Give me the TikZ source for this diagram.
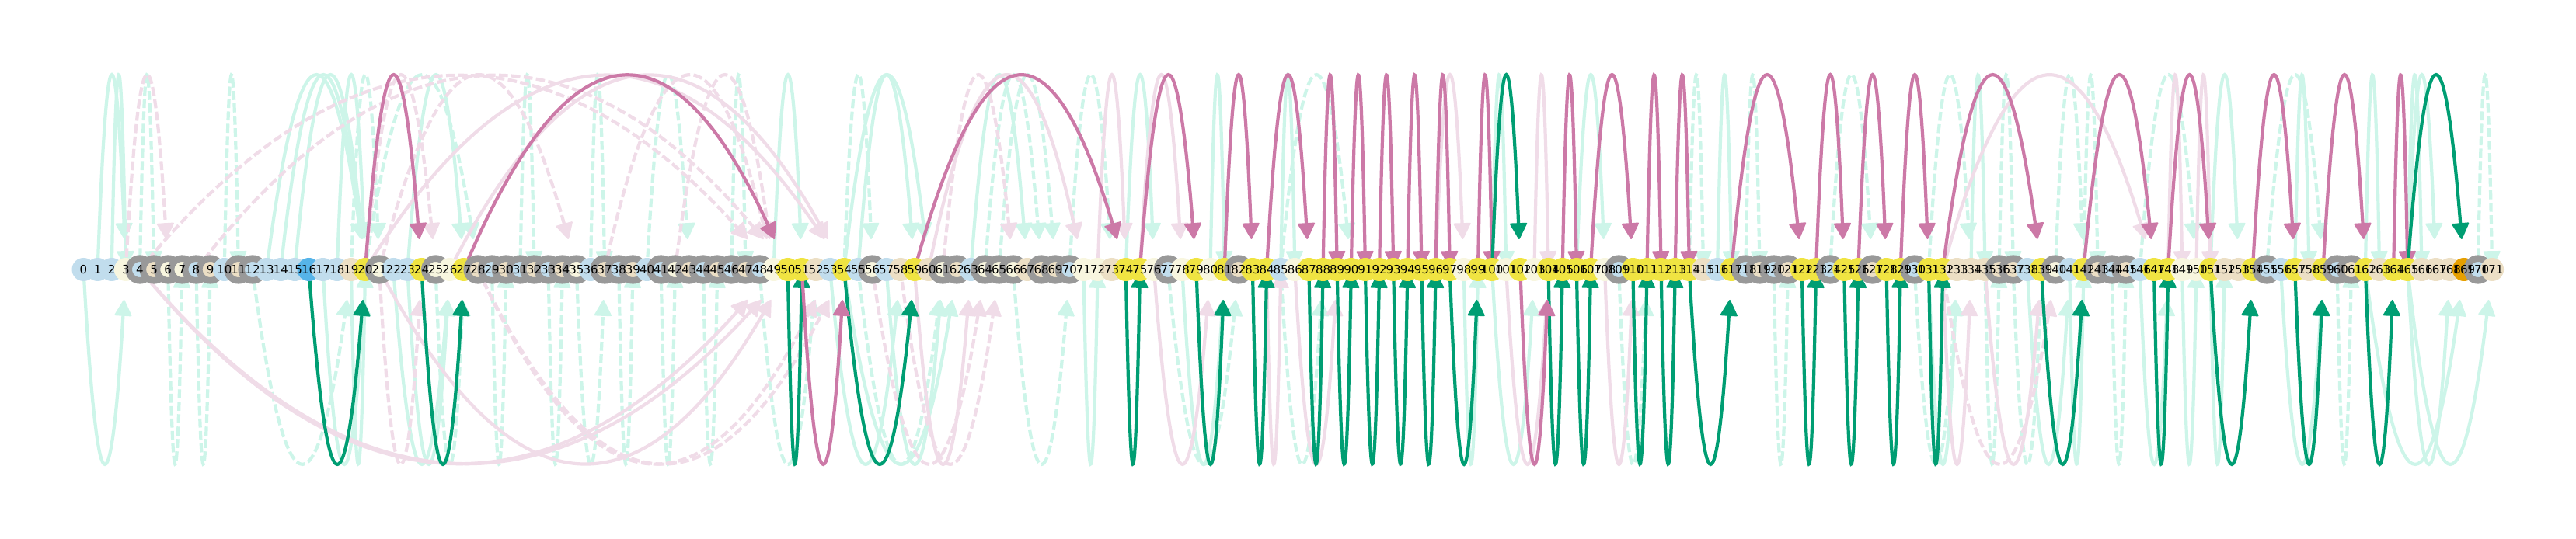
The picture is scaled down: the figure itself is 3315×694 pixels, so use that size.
\documentclass[tikz,border=0pt]{standalone}
\usepackage{fontspec}
\setmainfont{DejaVu Sans}
\usetikzlibrary{arrows.meta,calc}
\definecolor{cB}{HTML}{C1DDED}
\definecolor{cC}{HTML}{F8F6DF}
\definecolor{cT}{HTML}{ECDFC5}
\definecolor{cY}{HTML}{F0E442}
\definecolor{cS}{HTML}{56B4E9}
\definecolor{cO}{HTML}{E69F00}
\definecolor{ring}{HTML}{999999}
\definecolor{lightgreen}{HTML}{CDF5E9}
\definecolor{lightpurple}{HTML}{F0DCE8}
\definecolor{darkgreen}{HTML}{009E73}
\definecolor{darkpurple}{HTML}{CC79A7}
\tikzset{
  arcbase/.style={line width=2.1pt,-{Triangle[length=11pt,width=11.5pt,line width=1pt,round]}},
  lgs/.style={arcbase,draw=lightgreen,color=lightgreen},
  lgd/.style={lgs,dash pattern=on 5.8pt off 2.2pt},
  lps/.style={arcbase,draw=lightpurple,color=lightpurple},
  lpd/.style={lps,dash pattern=on 5.8pt off 2.2pt},
  dg/.style={arcbase,draw=darkgreen,color=darkgreen},
  dp/.style={arcbase,draw=darkpurple,color=darkpurple},
  nd/.style={circle,inner sep=0pt,minimum size=15pt},
  ndB/.style={nd,fill=cB}, ndC/.style={nd,fill=cC}, ndT/.style={nd,fill=cT},
  ndY/.style={nd,fill=cY}, ndS/.style={nd,fill=cS}, ndO/.style={nd,fill=cO},
  ringed/.style={minimum size=14.3pt,draw=ring,line width=4.3pt},
  ndBR/.style={ndB,ringed}, ndCR/.style={ndC,ringed}, ndTR/.style={ndT,ringed},
  lab/.style={inner sep=0pt,font=\fontsize{7.5pt}{9pt}\selectfont,text=black}
}
\newcommand\arcedge[4]{%
  \pgfmathsetmacro\spn{(#2-#1)*18.126}%
  \pgfmathsetmacro\ofs{ifthenelse(#2-#1==1,3,39)}%
  \pgfmathsetmacro\eps{(1-sqrt(1-\ofs/248))/2}%
  \pgfmathsetmacro\tu{1-\eps}%
  \pgfmathsetmacro\ax{\tu*\spn/3}%
  \pgfmathsetmacro\ay{#3*4*248*\tu/3}%
  \pgfmathsetmacro\bx{2*\tu*\spn/3}%
  \pgfmathsetmacro\by{#3*(\ofs/3+4*248*\tu/3)}%
  \pgfmathsetmacro\ex{-\eps*\spn}%
  \pgfmathsetmacro\ey{#3*\ofs}%
  \draw[#4] (n#1) .. controls ($(n#1)+(\ax,\ay)$) and ($(n#1)+(\bx,\by)$) .. ($(n#2)+(\ex,\ey)$);%
}
\begin{document}
\begin{tikzpicture}[x=0.5pt,y=0.5pt]
\useasboundingbox (0,-347) rectangle (3315,347);
\foreach \i in {0,...,171} {\coordinate (n\i) at ({107.5+18.126*\i},0);}
% light arcs above
\foreach \a/\b/\s in {1/3/lgs,2/3/lgs,4/5/lgd,10/11/lgd,13/20/lgs,14/20/lgs,15/20/lgs,18/20/lgs,19/21/lgd,20/28/lgd,23/27/lgs,31/32/lgd,36/37/lgd,40/43/lgd,46/47/lgd,49/51/lgs,54/56/lgd,55/59/lgs,54/60/lgs,63/67/lgs,64/68/lgd,65/69/lgd,70/73/lgd,74/76/lgs,80/81/lgs,85/86/lgs,85/90/lgd,100/101/lgs,106/108/lgs,114/115/lgd,116/117/lgs,118/119/lgd,124/127/lgd,131/134/lgd,134/135/lgs,136/137/lgd,140/142/lgd,142/143/lgd,146/150/lgd,151/153/lgs,155/159/lgd,157/158/lgs,162/163/lgs,165/166/lgs,165/167/lgs,170/171/lgd,
3/6/lpd,4/49/lpd,8/50/lpd,20/25/lpd,21/35/lpd,20/54/lps,26/54/lps,37/49/lpd,42/49/lpd,61/66/lpd,60/71/lps,72/74/lps,75/78/lps,96/98/lps,103/104/lps,132/147/lps,148/149/lps,150/151/lps}
  {\arcedge{\a}{\b}{1}{\s}}
% light arcs below
\foreach \a/\b/\s in {0/3/lgs,6/7/lgd,8/9/lgd,12/19/lgd,17/20/lgs,19/20/lgs,22/26/lgs,23/26/lgs,25/27/lgd,29/30/lgd,33/34/lgd,35/37/lgd,38/39/lgd,41/42/lgd,44/45/lgd,48/52/lgd,53/58/lgs,55/61/lgd,54/62/lgs,57/61/lgs,66/70/lgd,71/72/lgs,77/82/lgd,78/81/lgs,85/88/lgd,98/99/lgs,100/103/lgs,109/111/lgd,120/121/lgd,130/133/lgd,131/133/lgs,135/136/lgd,137/139/lgd,138/141/lgs,141/142/lgs,144/145/lgd,146/148/lgs,149/150/lgs,151/152/lgs,156/159/lgs,160/161/lgd,162/169/lgs,165/168/lgs,165/171/lgs,
21/24/lpd,4/49/lps,4/50/lps,21/50/lps,28/53/lpd,28/54/lpd,59/63/lps,56/64/lpd,58/65/lpd,76/80/lps,84/85/lps,86/89/lps,101/104/lps,108/110/lps,132/134/lps,132/140/lpd,135/139/lps}
  {\arcedge{\a}{\b}{-1}{\s}}
% dark arcs above
\foreach \a/\b/\s in {20/24/dp,27/50/dp,59/74/dp,75/79/dp,81/83/dp,84/87/dp,88/89/dp,90/91/dp,92/93/dp,94/95/dp,96/97/dp,99/100/dp,105/106/dp,107/110/dp,111/112/dp,113/114/dp,117/122/dp,123/125/dp,126/128/dp,129/131/dp,132/139/dp,142/147/dp,148/151/dp,154/157/dp,159/162/dp,164/165/dp,100/102/dg,165/169/dg}
  {\arcedge{\a}{\b}{1}{\s}}
% dark arcs below
\foreach \a/\b/\s in {16/20/dg,24/27/dg,50/51/dg,54/59/dg,74/75/dg,79/81/dg,83/84/dg,87/88/dg,89/90/dg,91/92/dg,93/94/dg,95/96/dg,97/99/dg,104/105/dg,106/107/dg,110/111/dg,112/113/dg,114/117/dg,122/123/dg,125/126/dg,128/129/dg,131/132/dg,139/142/dg,147/148/dg,151/154/dg,157/159/dg,162/164/dg,51/54/dp,102/104/dp}
  {\arcedge{\a}{\b}{-1}{\s}}
% nodes
\foreach \i/\k in {0/B,1/B,2/B,3/C,4/BR,5/TR,6/CR,7/CR,8/BR,9/TR,10/B,11/TR,12/BR,13/B,14/B,15/B,16/S,17/B,18/B,19/T,20/Y,21/CR,22/B,23/B,24/Y,25/CR,26/C,27/Y,28/TR,29/BR,30/TR,31/BR,32/TR,33/BR,34/TR,35/CR,36/B,37/TR,38/BR,39/TR,40/B,41/BR,42/CR,43/TR,44/BR,45/TR,46/BR,47/TR,48/BR,49/C,50/Y,51/Y,52/T,53/B,54/Y,55/B,56/CR,57/B,58/T,59/Y,60/T,61/CR,62/TR,63/B,64/CR,65/CR,66/CR,67/T,68/TR,69/TR,70/BR,71/C,72/C,73/T,74/Y,75/Y,76/C,77/BR,78/C,79/Y,80/C,81/Y,82/TR,83/Y,84/Y,85/B,86/C,87/Y,88/Y,89/Y,90/Y,91/Y,92/Y,93/Y,94/Y,95/Y,96/Y,97/Y,98/C,99/Y,100/Y,101/C,102/Y,103/C,104/Y,105/Y,106/Y,107/Y,108/C,109/BR,110/Y,111/Y,112/Y,113/Y,114/Y,115/T,116/B,117/Y,118/BR,119/TR,120/BR,121/TR,122/Y,123/Y,124/BR,125/Y,126/Y,127/TR,128/Y,129/Y,130/BR,131/Y,132/Y,133/T,134/T,135/T,136/TR,137/TR,138/B,139/Y,140/CR,141/B,142/Y,143/TR,144/BR,145/TR,146/B,147/Y,148/Y,149/C,150/C,151/Y,152/T,153/T,154/Y,155/BR,156/B,157/Y,158/T,159/Y,160/BR,161/TR,162/Y,163/T,164/Y,165/Y,166/T,167/T,168/T,169/O,170/BR,171/T}
  {\node[nd\k] (c\i) at (n\i) {};}
% labels
\foreach \i in {0,...,171} {\node[lab] (l\i) at (n\i) {\i};}
\end{tikzpicture}
\end{document}
